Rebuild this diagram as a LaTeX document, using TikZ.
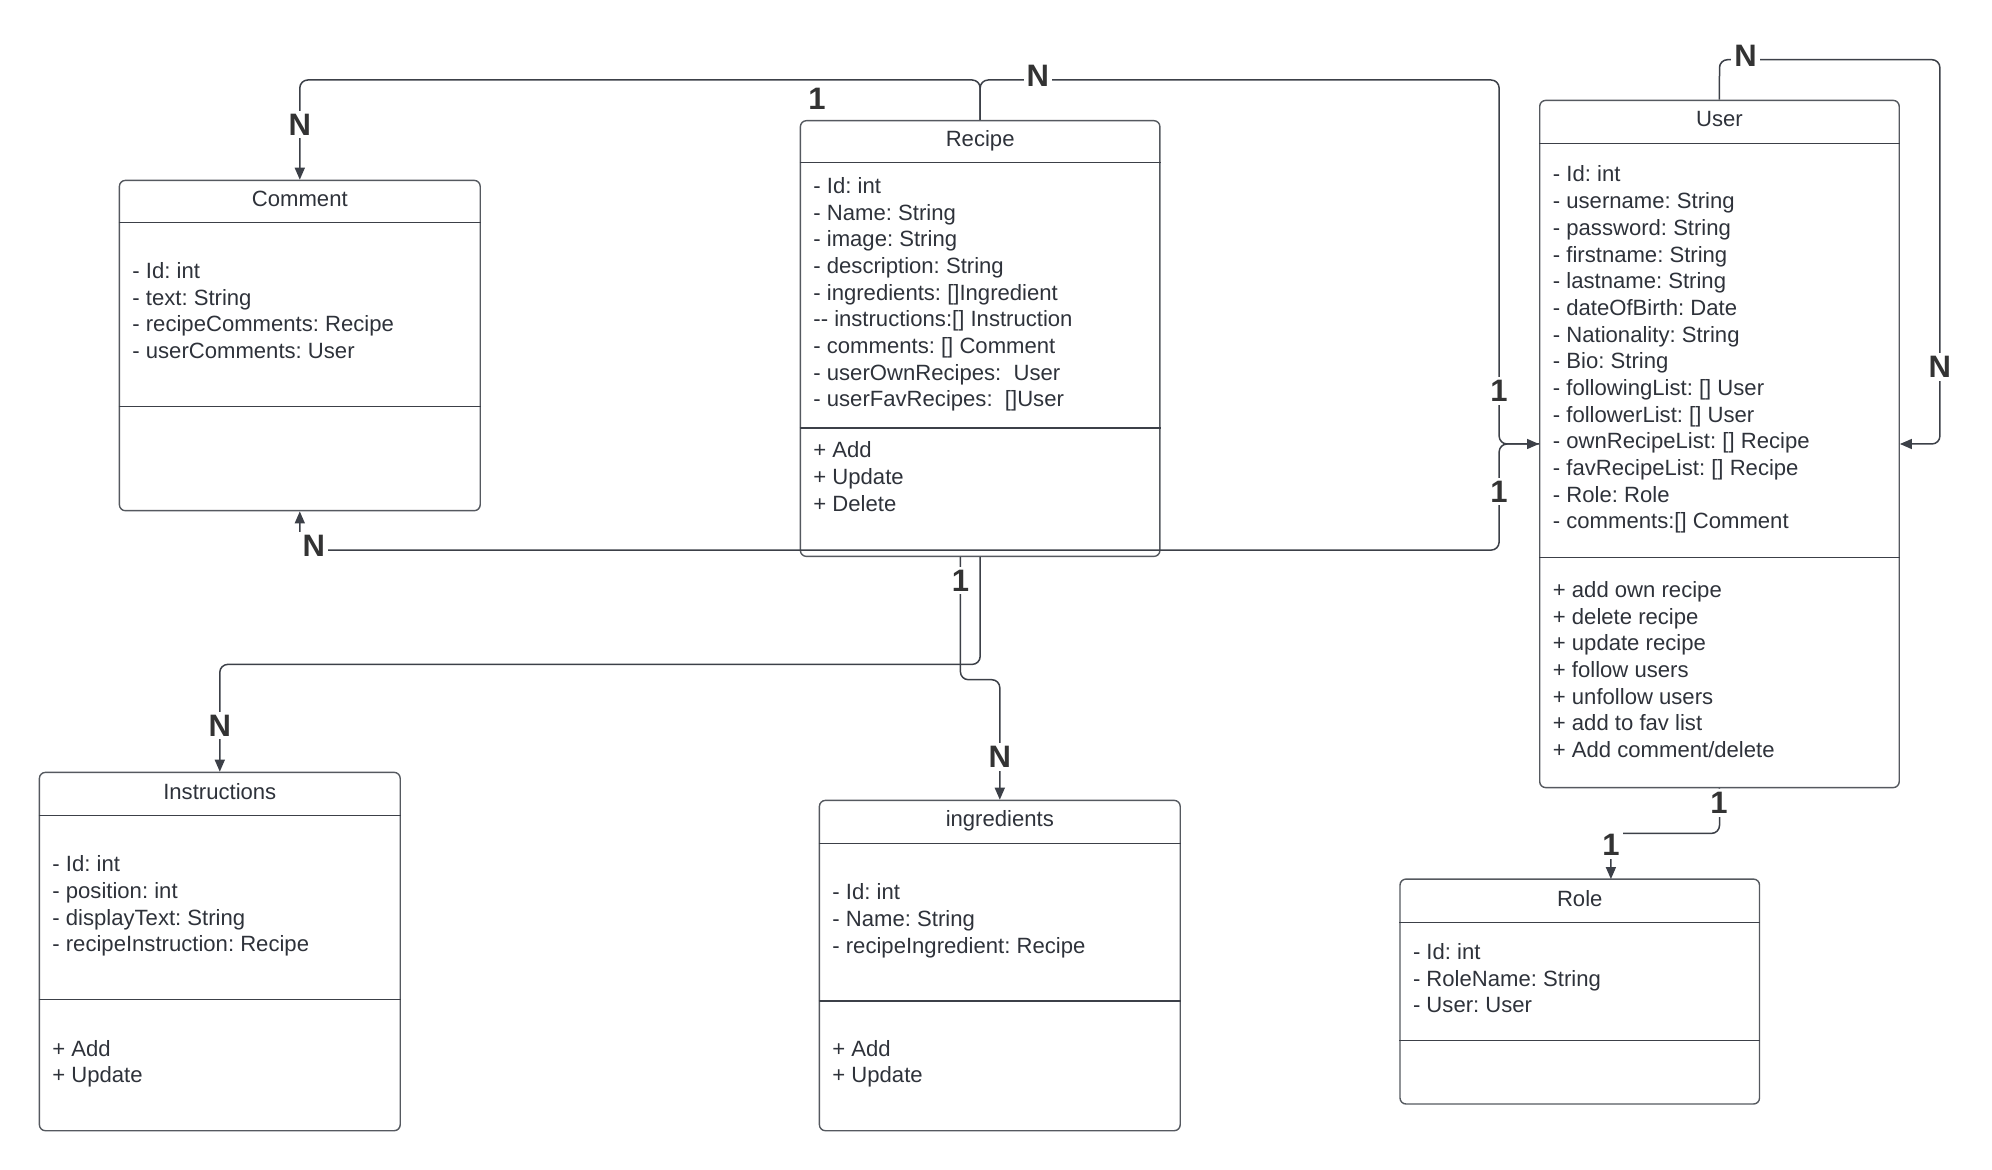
\documentclass[tikz,border=0pt]{standalone}
\usepackage{fontspec}
\setmainfont{Liberation Sans}
\usetikzlibrary{arrows.meta,fit}
\frenchspacing
\definecolor{txtc}{HTML}{2E323A}
\definecolor{linec}{HTML}{3C4048}
\definecolor{boxc}{HTML}{55595F}
\definecolor{lblc}{HTML}{333333}
\newcommand\clines[4]{%
  \foreach \lineitem [count=\i from 0] in {#4} {
    \node[txt] (#1-\i) at (#2, #3+\i*26.68) {\lineitem};
  }%
}
\begin{document}
\begin{tikzpicture}[x=0.5pt,y=-0.5pt,
  txt/.style={anchor=base west,inner sep=0pt,text=txtc,font=\fontsize{11.05pt}{13.35pt}\selectfont\frenchspacing},
  ttl/.style={anchor=base,inner sep=0pt,text=txtc,font=\fontsize{11.05pt}{13.35pt}\selectfont},
  classbox/.style={draw=boxc,line width=0.7pt,rounded corners=3pt,inner sep=0pt},
  divider/.style={draw=linec,line width=0.65pt},
  conn/.style={draw=linec,line width=0.75pt,rounded corners=4pt},
  tip/.style={-{Triangle[length=6pt,width=5pt]}},
  lbl/.style={fill=white,inner sep=1.6pt,text=lblc,font=\fontsize{15.5pt}{17pt}\selectfont\bfseries}]
\useasboundingbox (0,0) rectangle (1992,1170);

% ---------- class boxes ----------
\node[classbox,fit={(119.4,180.4) (480.2,510.7)}] (comment) {};
\node[classbox,fit={(800.4,120.7) (1159.9,556.4)}] (recipe) {};
\node[classbox,fit={(1539.7,100.4) (1899.2,787.6)}] (user) {};
\node[classbox,fit={(39.4,772.4) (400.2,1130.7)}] (instr) {};
\node[classbox,fit={(819.4,800.4) (1180.2,1130.7)}] (ingr) {};
\node[classbox,fit={(1400,879.1) (1759.5,1104)}] (role) {};

% dividers
\foreach \b/\ya/\yb in {comment/222.3/406.5, recipe/162.6/428.1, user/143.6/557.7,
                        instr/815.6/999.8, ingr/843.5/1001.1, role/922.3/1040.5} {
  \draw[divider] (\b.west |- 0,\ya) -- (\b.east |- 0,\ya);
  \draw[divider] (\b.west |- 0,\yb) -- (\b.east |- 0,\yb);
}

% ---------- texts ----------
\node[ttl] (commentT) at (299.8,206.2) {Comment};
\clines{commentA}{132}{278.6}{- Id: int, - text: String, - recipeComments: Recipe, - userComments: User}

\node[ttl] (recipeT) at (980.15,146.5) {Recipe};
\clines{recipeA}{813}{193.5}{- Id: int, - Name: String, - image: String, - description: String,
  - ingredients: []Ingredient, -{}- instructions:[] Instruction, - comments: [] Comment,
  - userOwnRecipes:\ \ User, - userFavRecipes:\ \ []User}
\clines{recipeM}{813}{457.7}{+ Add, + Update, + Delete}

\node[ttl] (userT) at (1719.5,126.1) {User};
\clines{userA}{1552.5}{182.0}{- Id: int, - username: String, - password: String, - firstname: String,
  - lastname: String, - dateOfBirth: Date, - Nationality: String, - Bio: String,
  - followingList: [] User, - followerList: [] User, - ownRecipeList: [] Recipe,
  - favRecipeList: [] Recipe, - Role: Role, - comments:[] Comment}
\clines{userM}{1552.5}{597.5}{+ add own recipe, + delete recipe, + update recipe, + follow users,
  + unfollow users, + add to fav list, + Add comment/delete}

\node[ttl] (instrT) at (219.8,799.4) {Instructions};
\clines{instrA}{52}{871.9}{- Id: int, - position: int, - displayText: String, - recipeInstruction: Recipe}
\clines{instrM}{52}{1056.1}{+ Add, + Update}

\node[ttl] (ingrT) at (999.8,826.1) {ingredients};
\clines{ingrA}{832}{899.8}{- Id: int, - Name: String, - recipeIngredient: Recipe}
\clines{ingrM}{832}{1056.1}{+ Add, + Update}

\node[ttl] (roleT) at (1579.75,906.2) {Role};
\clines{roleA}{1412.6}{959.5}{- Id: int, - RoleName: String, - User: User}

% ---------- connectors ----------
\coordinate (rtop) at (980.15,80);
\coordinate (ucross) at (1499.1,444);
% Recipe -> Comment
\draw[conn,tip] (recipe.north) -- (rtop) -| (comment.north);
% Recipe -> User
\draw[conn,tip] (recipe.north) -- (rtop) -- (1499.1,80) -- (ucross) -- (user.west);
% User -> Comment
\draw[conn,tip] (user.west) -- (ucross) -- (1499.1,550.1) -- (299.8,550.1) -- (comment.south);
% Recipe -> Instructions
\draw[conn,tip] (recipe.south) -- (980.15,664.4) -| (instr.north);
% Recipe -> ingredients
\draw[conn,tip] (960.4,0 |- recipe.south) -- (960.4,679.7) -- (999.8,679.7) -- (ingr.north);
% User self loop
\draw[conn,tip] (user.north) -- (1719.5,59.7) -- (1939.9,59.7) -- (1939.9,444) -- (user.east);
% User -> Role
\coordinate (rolein) at (1610.9,879.1);
\draw[conn,tip] (user.south) -- (1719.5,833.4) -- (1610.9,833.4) -- (rolein);

% ---------- multiplicity labels ----------
\node[lbl] (m1) at (299.8,124.5) {N};
\node[lbl] (m2) at (816.9,99.1) {1};
\node[lbl] (m3) at (1037.9,76.2) {N};
\node[lbl] (m4) at (1499.1,391.3) {1};
\node[lbl] (m5) at (1499.1,491.6) {1};
\node[lbl] (m6) at (313.8,546.3) {N};
\node[lbl] (m7) at (960.4,580.6) {1};
\node[lbl] (m8) at (219.8,725.4) {N};
\node[lbl] (m9) at (999.8,757.2) {N};
\node[lbl] (m10) at (1745.5,55.9) {N};
\node[lbl] (m11) at (1939.9,367.1) {N};
\node[lbl] (m12) at (1718.9,802.9) {1};
\node[lbl] (m13) at (1610.9,844.8) {1};
\end{tikzpicture}
\end{document}
